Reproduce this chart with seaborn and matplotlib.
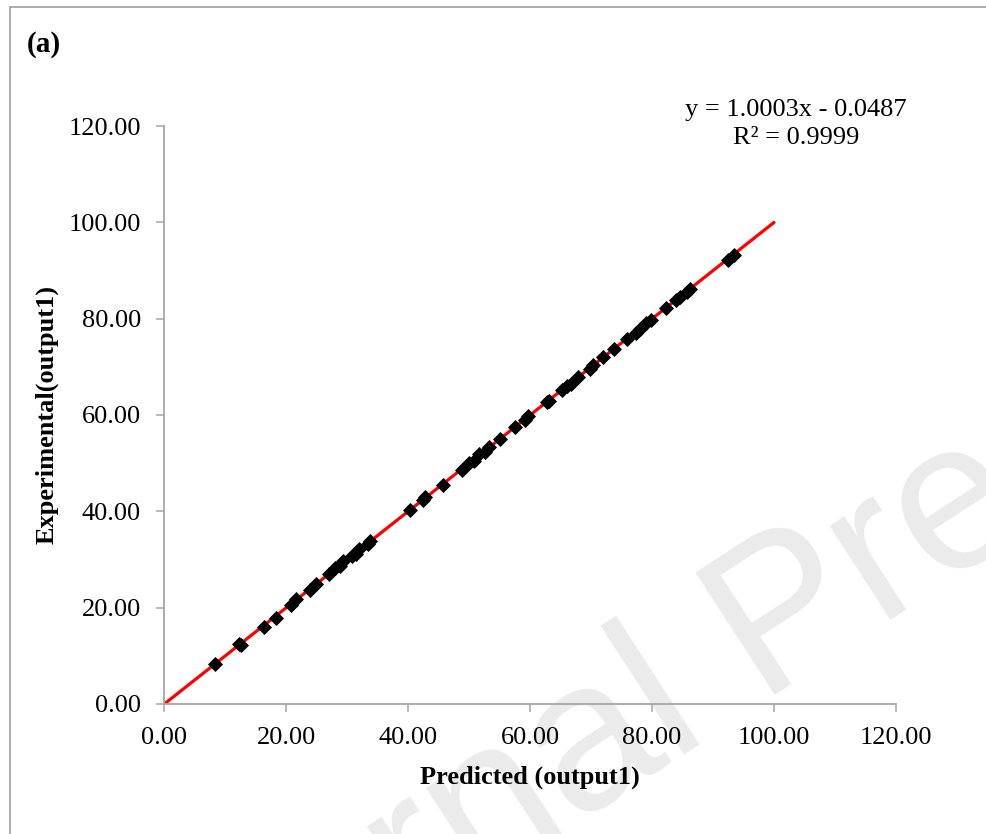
import matplotlib
matplotlib.use("Agg")
import matplotlib.pyplot as plt
import matplotlib.ticker as mticker
from matplotlib.lines import Line2D
import numpy as np
import pandas as pd
import seaborn as sns

# Model output vs. measured values (output1)
predicted = [8.4, 12.3, 12.6, 16.4, 18.3, 20.8, 21.6, 23.9, 24.9, 27.1,
             28.0, 28.9, 29.4, 30.8, 31.4, 32.0, 33.5, 33.8, 40.4, 42.4,
             42.8, 45.7, 48.8, 50.0, 50.8, 51.6, 52.6, 53.2, 55.1, 57.5,
             59.2, 59.7, 62.8, 63.1, 65.3, 66.1, 66.8, 67.9, 69.8, 70.4,
             71.9, 73.8, 75.9, 77.4, 78.0, 79.0, 79.9, 82.3, 84.0, 84.6,
             85.7, 86.3, 92.4, 93.4]
experimental = [8.3, 12.4, 12.2, 15.9, 17.9, 20.6, 21.8, 23.7, 25.0, 26.9,
                28.2, 28.6, 29.6, 30.7, 31.2, 32.1, 33.3, 33.9, 40.2, 42.3,
                42.9, 45.5, 48.6, 50.1, 50.5, 51.8, 52.4, 53.3, 55.0, 57.6,
                58.9, 59.7, 62.6, 63.0, 65.1, 66.0, 66.5, 67.9, 69.6, 70.3,
                72.1, 73.7, 75.8, 77.1, 77.9, 79.1, 79.8, 82.3, 83.9, 84.5,
                85.6, 86.1, 92.2, 93.3]

# Linear trend reported for the data
slope = 1.0003
intercept = -0.0487
r_squared = 0.9999
trend_x = [0.0, 100.0]

axis_ticks = [0, 20, 40, 60, 80, 100, 120]

df = pd.DataFrame({"Predicted": predicted, "Experimental": experimental})
trend = pd.DataFrame({"x": trend_x})
trend["y"] = slope * trend["x"] + intercept

sns.set_theme(style="white")
plt.rcParams["font.family"] = ["Liberation Serif", "DejaVu Serif"]
plt.rcParams["text.color"] = "black"
plt.rcParams["axes.labelcolor"] = "black"

fig = plt.figure(figsize=(9.87, 8.34), dpi=100)
ax = fig.add_axes([0.1662, 0.1559, 0.7416, 0.6930])
ax.set_facecolor("none")

# Watermark behind the chart
fig.text(1.05, 0.37, "Journal Pre", fontsize=152, color="#ebebeb",
         family=["Liberation Sans", "DejaVu Sans"], rotation=33,
         rotation_mode="anchor", ha="right", va="baseline", zorder=-5)

# Outer frame (left and top edges)
frame_color = "#a6a6a6"
fig.add_artist(Line2D([10 / 987, 10 / 987], [0, 1 - 7 / 834],
                      color=frame_color, lw=1.3, transform=fig.transFigure))
fig.add_artist(Line2D([10 / 987, 1], [1 - 7 / 834, 1 - 7 / 834],
                      color=frame_color, lw=1.3, transform=fig.transFigure))

sns.lineplot(data=trend, x="x", y="y", ax=ax, color="#ff0000", lw=2.3,
             zorder=2)
sns.scatterplot(data=df, x="Predicted", y="Experimental", ax=ax, marker="D",
                s=50, color="black", edgecolor="black", linewidth=0.6,
                zorder=3)

ax.set_xlim(0, 120)
ax.set_ylim(0, 120)
ax.set_xticks(axis_ticks)
ax.set_yticks(axis_ticks)
fmt = mticker.FuncFormatter(lambda v, p: f"{v:.2f}")
ax.xaxis.set_major_formatter(fmt)
ax.yaxis.set_major_formatter(fmt)

for side in ["top", "right"]:
    ax.spines[side].set_visible(False)
for side in ["left", "bottom"]:
    ax.spines[side].set_color(frame_color)
    ax.spines[side].set_linewidth(1.3)

ax.tick_params(axis="both", which="major", direction="out", length=5.5,
               width=1.1, color=frame_color, labelsize=19,
               labelcolor="black")
ax.tick_params(axis="x", pad=11, bottom=True)
ax.tick_params(axis="y", pad=11, left=True)

ax.set_xlabel("Predicted (output1)", fontsize=19, fontweight="bold",
              labelpad=12)
ax.set_ylabel("Experimental(output1)", fontsize=19, fontweight="bold",
              labelpad=7)

sign = "-" if intercept < 0 else "+"
eq = f"y = {slope:.4f}x {sign} {abs(intercept):.4f}\nR² = {r_squared:.4f}"
ax.text(103.6, 120.4, eq, fontsize=19, ha="center", va="center",
        linespacing=1.35, clip_on=False)

fig.text(27 / 987, 1 - 45 / 834, "(a)", fontsize=21, fontweight="bold",
         ha="left", va="center")

fig.savefig("out.png", dpi=100)
